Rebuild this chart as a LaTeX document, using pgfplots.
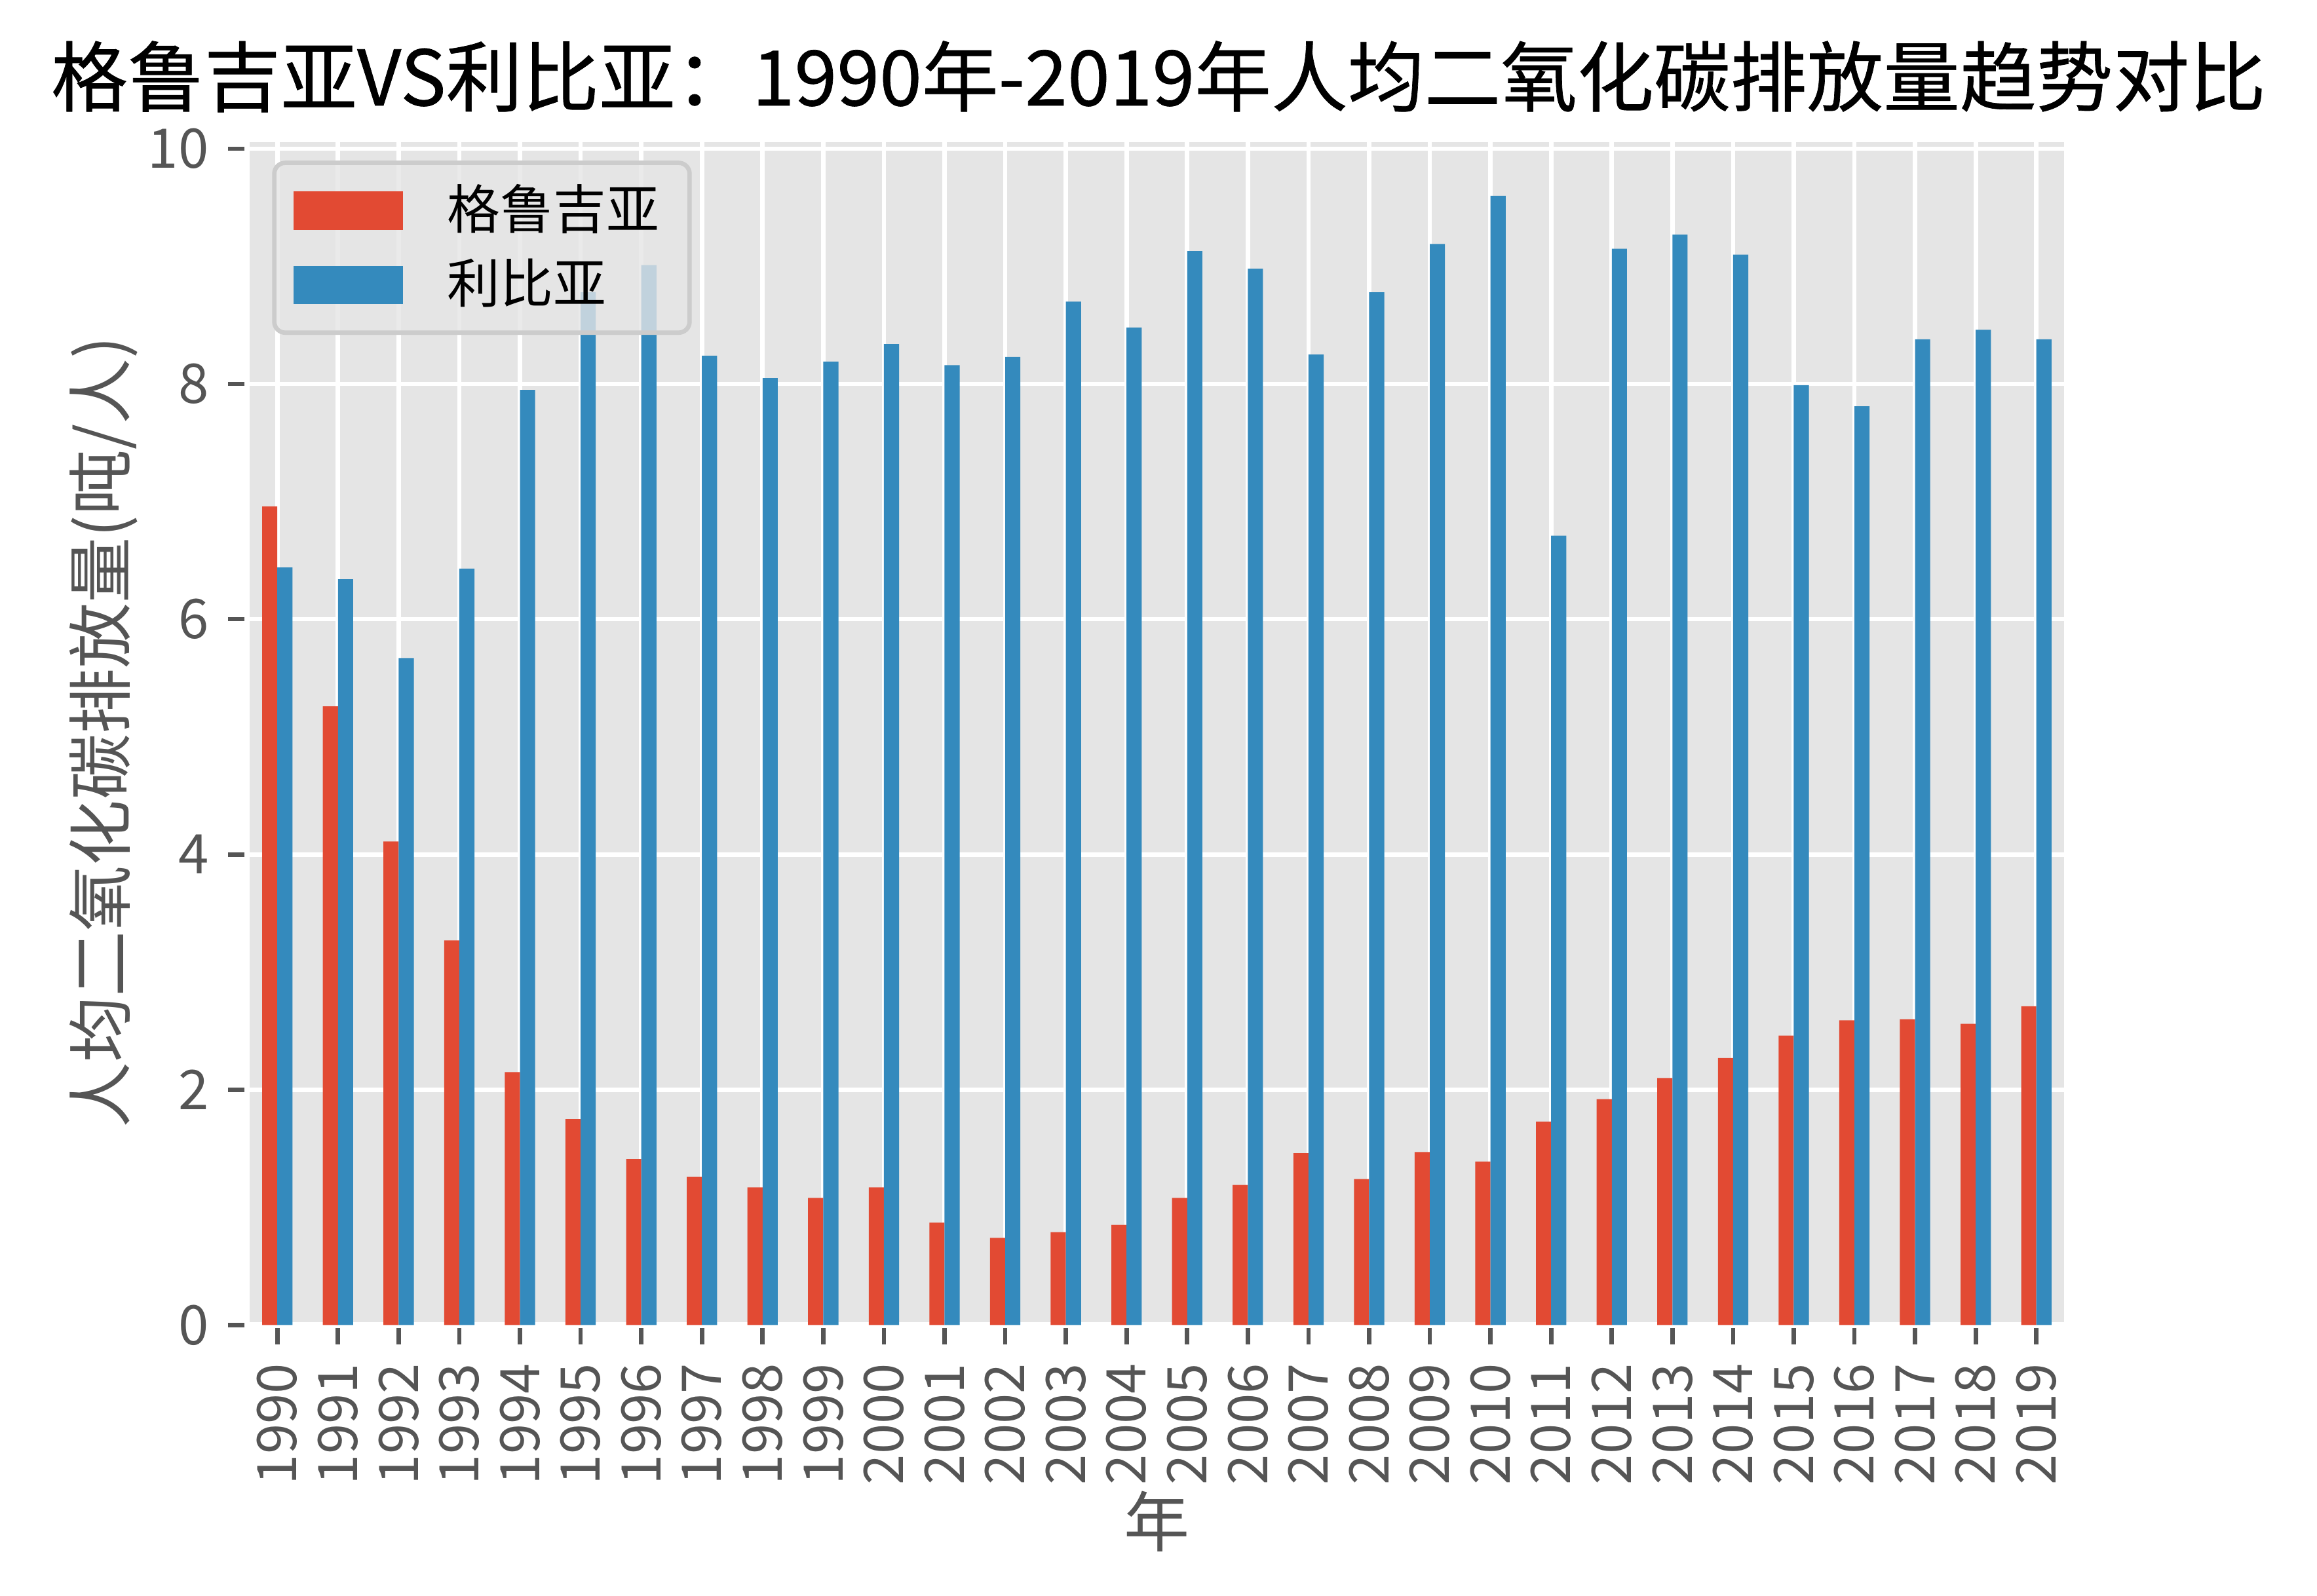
\documentclass[border=0pt]{standalone}
\usepackage{pgfplots}
\usepackage{pgfplotstable}
\pgfplotsset{compat=1.18}
\usepackage{fontspec}
\setmainfont{Noto Sans CJK SC}
\newfontfamily\titlefont[FakeBold=0.6]{Noto Sans CJK SC}
\definecolor{ggred}{HTML}{E24A33}
\definecolor{ggblue}{HTML}{348ABD}
\definecolor{ggbg}{HTML}{E5E5E5}
\definecolor{ggtext}{HTML}{555555}
\definecolor{legedge}{HTML}{CCCCCC}

\pgfplotstableread{
x year geo lby
0 1990 6.96 6.44
1 1991 5.26 6.34
2 1992 4.11 5.67
3 1993 3.27 6.43
4 1994 2.15 7.95
5 1995 1.75 8.78
6 1996 1.41 9.01
7 1997 1.26 8.24
8 1998 1.17 8.05
9 1999 1.08 8.19
10 2000 1.17 8.34
11 2001 0.87 8.16
12 2002 0.74 8.23
13 2003 0.79 8.70
14 2004 0.85 8.48
15 2005 1.08 9.13
16 2006 1.19 8.98
17 2007 1.46 8.25
18 2008 1.24 8.78
19 2009 1.47 9.19
20 2010 1.39 9.60
21 2011 1.73 6.71
22 2012 1.92 9.15
23 2013 2.10 9.27
24 2014 2.27 9.10
25 2015 2.46 7.99
26 2016 2.59 7.81
27 2017 2.60 8.38
28 2018 2.56 8.46
29 2019 2.71 8.38
}\data

\begin{document}
\begin{tikzpicture}
\path[use as bounding box] (0,0) rectangle (424pt,292pt);
\node[anchor=base, font=\titlefont\fontsize{14}{17}\selectfont, text=black] at (212pt,272.7pt) {格鲁吉亚VS利比亚：1990年-2019年人均二氧化碳排放量趋势对比};
\begin{axis}[
  at={(45.2pt,49.5pt)}, anchor=south west,
  scale only axis, width=333pt, height=217pt,
  xmin=-0.5, xmax=29.5, ymin=0, ymax=10.08,
  axis background/.style={fill=ggbg},
  axis line style={white, line width=1pt},
  xmajorgrids, ymajorgrids,
  grid style={white, line width=0.8pt},
  xtick={0,...,29},
  xticklabels from table={\data}{year},
  ytick={0,2,4,6,8,10},
  tick align=outside, tick pos=left,
  major tick length=3.5pt,
  tick style={ggtext, line width=0.8pt},
  /pgf/number format/assume math mode=true,
  ticklabel style={font=\fontsize{10}{12}\selectfont, text=ggtext},
  xticklabel style={rotate=90, anchor=east},
  xlabel={年}, ylabel={人均二氧化碳排放量(吨/人)},
  label style={font=\fontsize{12}{14}\selectfont, text=ggtext},
  ylabel style={at={(axis description cs:-0.0787,0.5)}, anchor=center},
  xlabel style={at={(axis description cs:0.5,-0.166)}, anchor=center},
  legend style={at={(0.0138,0.982)}, anchor=north west,
    font=\fontsize{9.7}{11}\selectfont, text=black,
    draw=legedge, line width=0.8pt, fill=ggbg, fill opacity=0.8, text opacity=1,
    rounded corners=2pt, inner xsep=3.5pt, inner ysep=1.9pt, row sep=0pt,
    /tikz/every odd column/.append style={column sep=6.2pt}},
  legend cell align=left,
]
\addplot[ybar, bar width=0.25, bar shift=-0.125, fill=ggred, draw=none,
  legend image code/.code={\path[fill=ggred, fill opacity=1, sharp corners] (0pt,-3.5pt) rectangle (20pt,3.5pt);}]
  table[x=x, y=geo]{\data};
\addlegendentry{格鲁吉亚}
\addplot[ybar, bar width=0.25, bar shift=0.125, fill=ggblue, draw=none,
  legend image code/.code={\path[fill=ggblue, fill opacity=1, sharp corners] (0pt,-3.5pt) rectangle (20pt,3.5pt);}]
  table[x=x, y=lby]{\data};
\addlegendentry{利比亚}
\end{axis}
\end{tikzpicture}
\end{document}
